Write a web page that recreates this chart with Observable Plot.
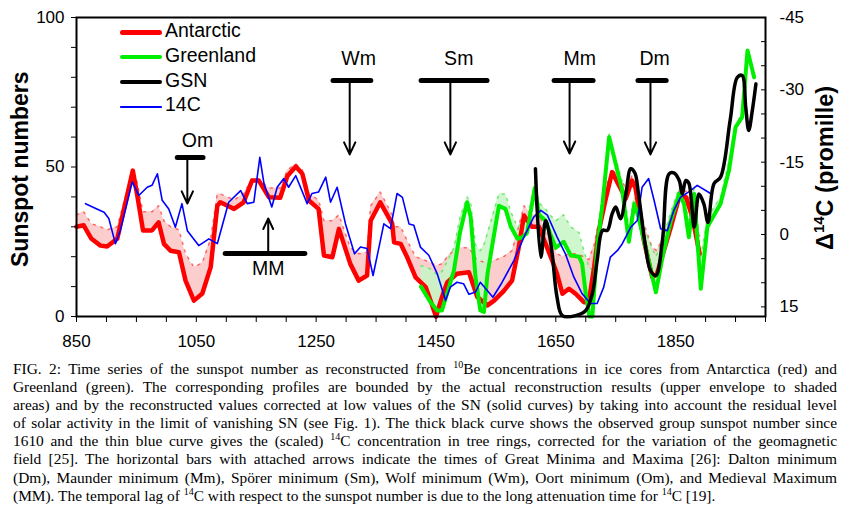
<!DOCTYPE html>
<html><head><meta charset="utf-8">
<script src="https://cdn.jsdelivr.net/npm/d3@7"></script>
<script src="https://cdn.jsdelivr.net/npm/@observablehq/plot@0.6"></script>
<style>
body{margin:0;background:#fff;}
#wrap{position:relative;width:850px;height:515px;overflow:hidden;font-family:"Liberation Sans",Arial,sans-serif;color:#000;}
#chart svg{display:block;}
.ylab{position:absolute;font-weight:bold;white-space:nowrap;transform-origin:0 0;transform:rotate(-90deg);line-height:1;}
.ylab sup{font-size:15px;vertical-align:9px;line-height:0;}
#legend{position:absolute;left:120px;top:21px;font-size:19.5px;line-height:1;}
#legend .row{position:relative;height:24.8px;}
#legend .sw{position:absolute;left:0;width:42px;}
#legend .lt{position:absolute;left:45px;top:0;}
#caption{position:absolute;left:13px;top:360px;width:824px;font-family:"Liberation Serif","Times New Roman",serif;font-size:15.4px;line-height:18.1px;}
#caption div{text-align:justify;text-align-last:justify;}
#caption div.last{text-align-last:left;}
#caption sup{font-size:10px;vertical-align:6px;line-height:0;}
</style></head>
<body><div id="wrap"><div id="chart"></div>
<div class="ylab" style="left:9px;top:267px;font-size:23px;">Sunspot numbers</div>
<div class="ylab" style="left:814px;top:250px;font-size:23.5px;">Δ<sup>14</sup>C (promille)</div>
<div id="legend"></div>
<div id="caption">
<div>FIG. 2: Time series of the sunspot number as reconstructed from <sup>10</sup>Be concentrations in ice cores from Antarctica (red) and</div>
<div>Greenland (green). The corresponding profiles are bounded by the actual reconstruction results (upper envelope to shaded</div>
<div>areas) and by the reconstructed values corrected at low values of the SN (solid curves) by taking into account the residual level</div>
<div>of solar activity in the limit of vanishing SN (see Fig. 1). The thick black curve shows the observed group sunspot number since</div>
<div>1610 and the thin blue curve gives the (scaled) <sup>14</sup>C concentration in tree rings, corrected for the variation of the geomagnetic</div>
<div>field [25]. The horizontal bars with attached arrows indicate the times of Great Minima and Maxima [26]: Dalton minimum</div>
<div>(Dm), Maunder minimum (Mm), Spörer minimum (Sm), Wolf minimum (Wm), Oort minimum (Om), and Medieval Maximum</div>
<div class="last">(MM). The temporal lag of <sup>14</sup>C with respect to the sunspot number is due to the long attenuation time for <sup>14</sup>C [19].</div>
</div>
</div>
<script>
// ---- Antarctic (red): solid corrected curve and upper envelope ----
const antYears = [850,862,875,890,901,918,944,951,961,976,987,996,1007,1021,1032,1046,1060,1074,1085,1090,1113,1129,1143,1154,1171,1190,1202,1216,1227,1238,1254,1263,1277,1288,1307,1321,1335,1341,1357,1377,1380,1391,1402,1416,1433,1441,1450,1460,1469,1485,1505,1519,1536,1547,1563,1577,1588,1597,1610,1622,1633,1644,1652,1661,1672,1683,1697,1705,1714,1722,1733,1744,1755,1767,1777,1783,1797,1811,1819,1842,1856,1867,1878,1890];
const antSN    = [30,30.5,26,23.7,23.4,26,48.8,41,28.8,28.8,31.5,24.3,22,21.5,12,5.3,7.7,16.5,37,38.2,36,38.2,45.5,45.5,39.9,39.7,47,50.2,47.7,38.8,36,20.4,19.8,29.3,17.6,12,13.7,32,38.2,31,24.8,24.3,19.8,13.1,9.8,5.3,0,6.5,11.5,14.3,14.8,6.5,3.7,5.3,8.5,12,23,33.8,30,30,24.3,18.7,14.3,7.6,9.3,7.6,4.8,4.8,16.5,28.8,39,48.3,44,39.5,45.5,43,25.4,13.1,14.3,29.9,40,40,33.2,21];
const antUpper = [34,35,31,30,29,30,49,45,35,35,37,32,30,29,21,16.5,18,26,41,41,39,41,46,46,43,43,49,51,49,41,39,32,32,34,23,21,21.5,37,41.6,34,30,30,25.4,20,18.7,18,17,17.6,20,23,23,18.7,18,18.7,20,22,30,37,34,34,29,25,21,20,21,21,20,19,24,32,43,49,47,43,47,45,31,23,22,33,42,42,37,27];

// ---- Greenland (green) ----
const grnYears = [1425,1440,1452,1460,1480,1490,1502,1508,1516,1524,1530,1536,1555,1566,1575,1586,1594,1602,1615,1622,1633,1640,1650,1663,1675,1689,1694,1700,1706,1711,1719,1728,1739,1750,1761,1772,1781,1788,1800,1817,1828,1842,1856,1864,1872,1881,1892,1903,1925,1939,1950,1961,1970,1981];
const grnSN    = [10,5,2,2,15.4,28,38.2,33.2,13.1,2,1.5,14.3,37,36,30,26,26.5,28,43,34,32,28,23,25,20.4,20,17.6,7.6,0,0,23,37.7,60,51,42,25,37.7,33.2,23,8.1,19.8,32,41,37.7,26.5,41,9.3,29.9,37.7,48.8,63.3,66.7,89,80];
const grnUpper = [17,16,14,15,23,33,40,38,24,22,24,28,41,41,35,30,31,32,45,38,36,34,32,34,30,28,24,20,16,16,28,40,61,53,45,30,40,37,28,20,25,35,43,40,32,43,20,33,40,52,64,68,89,80];

// ---- Group sunspot number (black) ----
const gsnYears = [1616,1625,1633,1638,1644,1652,1661,1683,1700,1711,1719,1728,1736,1744,1750,1758,1767,1775,1782,1788,1800,1808,1817,1828,1839,1847,1856,1861,1867,1872,1881,1889,1897,1904,1914,1925,1941,1953,1961,1967,1972,1978,1984];
const gsnSN    = [49.4,19.8,32,28.8,21,6.5,0.3,0.3,2,7.6,18.7,28.8,28.8,34.3,36.6,32.7,41,49.4,48,41,23,15.4,13.7,25.4,47.7,48,45.5,41,45.5,44.6,29.9,41,37.7,31.5,44.4,46.6,65.6,80,80.6,70,62.2,68.9,77.8];

// ---- 14C (blue), promille, right axis ----
const c14Years = [865,884,896,904,915,923,943,954,968,976,985,993,1004,1015,1026,1035,1054,1071,1085,1104,1124,1135,1146,1156,1163,1176,1185,1196,1204,1216,1235,1243,1254,1266,1274,1285,1299,1314,1324,1335,1345,1363,1374,1385,1394,1405,1413,1424,1438,1452,1466,1474,1485,1496,1505,1516,1524,1545,1560,1580,1597,1613,1625,1636,1652,1666,1680,1694,1708,1719,1730,1741,1753,1761,1775,1786,1794,1805,1814,1825,1836,1847,1858,1875,1886,1907];
const c14Promille = [-6.4,-5.3,-4.6,-3.3,1.9,-0.8,-10.9,-8.1,-9.8,-10.2,-12.6,-7.1,-5.3,-1.5,-6.4,-0.8,2.3,0.9,1.9,-6.7,-9.1,-6.4,-6.7,-16,-10.5,-5.7,-9.8,-11.6,-9.8,-12.2,-6.4,-8.5,-8.8,-11.9,-6.7,-9.8,-2.2,4.0,2.6,2.9,8.5,-2.2,-1.2,-8.5,-7.7,-2.2,-1.9,2.6,4.3,8.1,13.7,10.9,9.9,10.2,12.4,11.9,9.9,13.0,10.0,5.4,0.5,-3.6,-5.0,-4.0,0.5,4.0,8.8,12.3,14.3,14.3,10.9,4.7,3.3,1.9,-1.5,-2.9,-9.8,-11.6,-7.1,-1.2,-0.8,-5.0,-7.7,-9.1,-10.2,-8.6];

// ---- Great minima / maxima annotations ----
const minNames  = ["Om","Wm","Sm","Mm","Dm"];
const minStart  = [1019,1279,1426,1648,1788];
const minEnd    = [1062,1342,1536,1713,1835];
const minArrow  = [1035,1306,1474,1673,1808];
const minLabelX = [1052,1321,1488,1690,1815];
const minBar    = [53.2,78.9,78.9,78.9,78.9];
const minTip    = [37.8,54.2,54.2,54.5,54.2];
const minLabelY = [58.9,86.3,86.3,86.3,86.3];
const maxName = "MM", maxStart = 1099, maxEnd = 1232, maxArrow = 1170, maxBar = 21.1, maxTip = 32.8, maxLabelY = 16;

// ---- Axes ----
const xTicks = d3.range(850, 2001, 50);
const xLabels = [850,1050,1250,1450,1650,1850];
const yTicks = d3.range(0, 101, 10);
const yLabels = [0,50,100];
const rTicks = d3.range(-45, 16, 5);
const rLabels = [-45,-30,-15,0,15];
const rTop = -45, rBottom = 17;   // promille at SN=100 and SN=0

const toSN = p => (rBottom - p) / (rBottom - rTop) * 100;
const toP = s => rBottom - s / 100 * (rBottom - rTop);

const ant = antYears.map((y,i)=>({year:y, sn:antSN[i], up:antUpper[i]}));
const grn = grnYears.map((y,i)=>({year:y, sn:grnSN[i], up:grnUpper[i]}));
const gsn = gsnYears.map((y,i)=>({year:y, sn:gsnSN[i]}));
const c14 = c14Years.map((y,i)=>({year:y, sn:toSN(c14Promille[i])}));
const minima = minNames.map((n,i)=>({name:n, start:minStart[i], end:minEnd[i], arrow:minArrow[i], lx:minLabelX[i], bar:minBar[i], tip:minTip[i], ly:minLabelY[i]}));
const maxima = [{name:maxName, start:maxStart, end:maxEnd, arrow:maxArrow, lx:maxArrow, bar:maxBar, tip:maxTip, ly:maxLabelY}];
const marks_all = minima.concat(maxima);

const chart = Plot.plot({
  width: 850, height: 360,
  marginLeft: 76, marginRight: 85, marginTop: 17, marginBottom: 44,
  style: {fontFamily: '"Liberation Sans", Arial, sans-serif', fontSize: "17px", background: "#fff", color: "#000"},
  x: {domain: [850, 2000]},
  y: {domain: [0, 100]},
  marks: [
    Plot.areaY(ant, {x: "year", y1: "sn", y2: "up", fill: "#fbc4c4", fillOpacity: 0.85}),
    Plot.areaY(grn, {x: "year", y1: "sn", y2: "up", fill: "#c6f6c6", fillOpacity: 0.85}),
    Plot.line(ant, {x: "year", y: "up", stroke: "#ff4a4a", strokeWidth: 1.5, strokeDasharray: "2,6", strokeOpacity: 0.8}),
    Plot.line(grn, {x: "year", y: "up", stroke: "#55e655", strokeWidth: 1.5, strokeDasharray: "2,6", strokeOpacity: 0.8}),
    Plot.line(ant, {x: "year", y: "sn", stroke: "#ff0000", strokeWidth: 4.5, strokeLinejoin: "round"}),
    Plot.line(grn, {x: "year", y: "sn", stroke: "#00ee00", strokeWidth: 4, strokeLinejoin: "round"}),
    Plot.line(c14, {x: "year", y: "sn", stroke: "#0000ff", strokeWidth: 1.6}),
    Plot.line(gsn, {x: "year", y: "sn", stroke: "#000", strokeWidth: 3.5, curve: "catmull-rom"}),
    Plot.ruleY(marks_all, {y: "bar", x1: "start", x2: "end", stroke: "#000", strokeWidth: 5, strokeLinecap: "round"}),
    Plot.arrow(marks_all, {x1: "arrow", x2: "arrow", y1: "bar", y2: "tip", stroke: "#000", strokeWidth: 2, headLength: 10, headAngle: 50}),
    Plot.text(marks_all, {x: "lx", y: "ly", text: "name", fontSize: 19.5, fill: "#000"}),
    Plot.axisX({ticks: xTicks, tickSize: 6, tickPadding: 12, tickFormat: d => xLabels.includes(d) ? String(d) : "", label: null, fontSize: 17}),
    Plot.axisY({anchor: "left", ticks: yTicks, tickSize: 5, tickPadding: 7, tickFormat: d => yLabels.includes(d) ? String(d) : "", label: null, fontSize: 17}),
    Plot.axisY({anchor: "right", ticks: rTicks.map(toSN), tickSize: 5, dx: -5, tickFormat: () => "", label: null}),
    Plot.axisY({anchor: "right", ticks: rLabels.map(toSN), tickSize: 0, tickPadding: 14, tickFormat: s => String(Math.round(toP(s))), label: null, fontSize: 17}),
    Plot.frame({stroke: "#000", strokeWidth: 2})
  ]
});
document.getElementById("chart").appendChild(chart);

// ---- Legend ----
const legendItems = [
  {label: "Antarctic", color: "#ff0000", w: 5},
  {label: "Greenland", color: "#00ee00", w: 4},
  {label: "GSN", color: "#000000", w: 4},
  {label: "14C", color: "#0000ff", w: 1.6}
];
const lg = document.getElementById("legend");
legendItems.forEach(it => {
  const row = document.createElement("div"); row.className = "row";
  const sw = document.createElement("div"); sw.className = "sw";
  sw.style.background = it.color; sw.style.height = it.w + "px"; sw.style.top = (11.5 - it.w/2) + "px";
  sw.style.borderRadius = (it.w/2) + "px";
  const t = document.createElement("div"); t.className = "lt"; t.textContent = it.label;
  row.appendChild(sw); row.appendChild(t); lg.appendChild(row);
});
</script>
</body></html>
